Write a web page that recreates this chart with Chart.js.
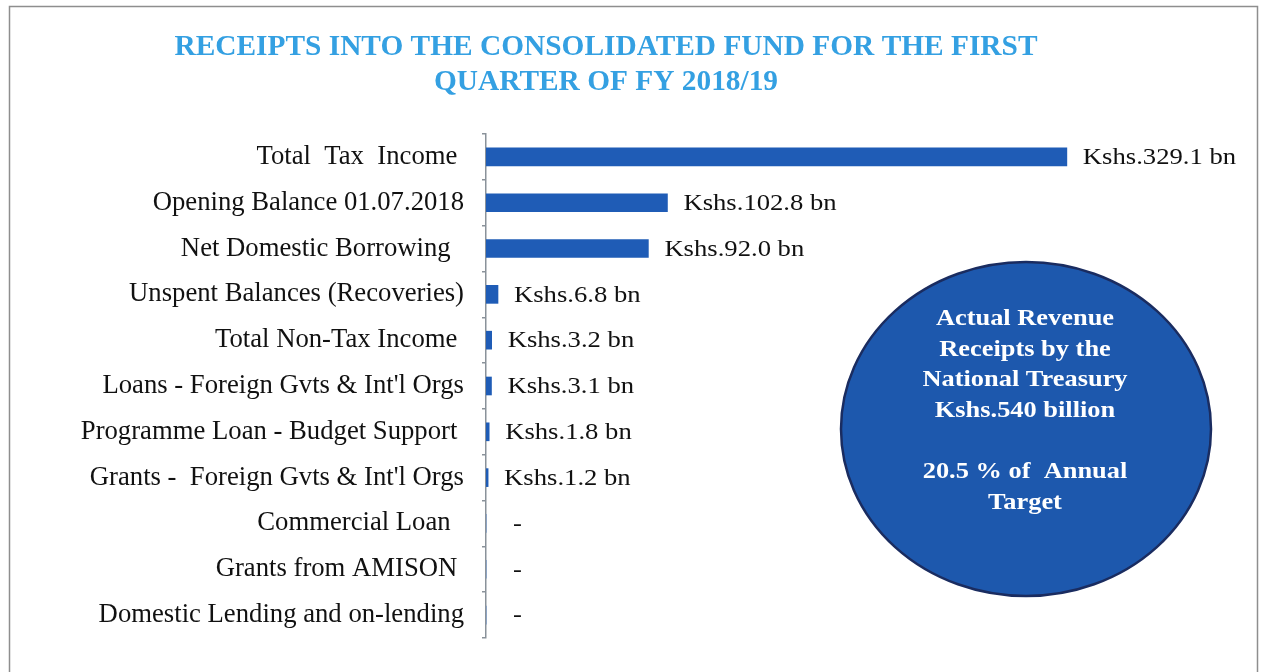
<!DOCTYPE html>
<html><head><meta charset="utf-8">
<script src="https://cdn.jsdelivr.net/npm/chart.js@4/dist/chart.umd.min.js"></script>
<style>html,body{margin:0;padding:0;background:#fff}#wrap{width:1263px;height:672px;position:relative}</style>
</head><body><div id="wrap"><canvas id="c" width="1263" height="672"></canvas></div>
<script>
const categories = [
  "Total  Tax  Income ",
  "Opening Balance 01.07.2018",
  "Net Domestic Borrowing  ",
  "Unspent Balances (Recoveries)",
  "Total Non-Tax Income ",
  "Loans - Foreign Gvts & Int'l Orgs",
  "Programme Loan - Budget Support ",
  "Grants -  Foreign Gvts & Int'l Orgs",
  "Commercial Loan  ",
  "Grants from AMISON ",
  "Domestic Lending and on-lending"
];
const values = [329.1, 102.8, 92.0, 6.8, 3.2, 3.1, 1.8, 1.2, 0, 0, 0];
const valueLabels = ["Kshs.329.1 bn","Kshs.102.8 bn","Kshs.92.0 bn","Kshs.6.8 bn","Kshs.3.2 bn","Kshs.3.1 bn","Kshs.1.8 bn","Kshs.1.2 bn","-","-","-"];
const titleLines = ["RECEIPTS INTO THE CONSOLIDATED FUND FOR THE FIRST","QUARTER OF FY 2018/19"];
const circleLines = ["Actual Revenue","Receipts by the","National Treasury","Kshs.540 billion","","20.5 % of  Annual","Target"];

const SERIF = "'Liberation Serif','Times New Roman',serif";

const decor = {
  id:'decor',
  beforeDraw(chart){
    const ctx = chart.ctx;
    ctx.save();
    ctx.strokeStyle = '#8e8e8e';
    ctx.lineWidth = 1.5;
    ctx.beginPath();
    ctx.moveTo(9.5, 680); ctx.lineTo(9.5, 6.5); ctx.lineTo(1257.5, 6.5); ctx.lineTo(1257.5, 680);
    ctx.stroke();
    // title
    ctx.fillStyle = '#34a0e2';
    ctx.font = "bold 29px " + SERIF;
    ctx.textAlign = 'center'; ctx.textBaseline = 'middle';
    const w0 = ctx.measureText(titleLines[0]).width;
    const sx = 863 / w0;
    ctx.translate(606, 0);
    ctx.scale(sx, 1);
    ctx.fillText(titleLines[0], 0, 48);
    ctx.fillText(titleLines[1], 0, 83);
    ctx.restore();
  },
  afterDraw(chart){
    const ctx = chart.ctx;
    const xs = chart.scales.x, ys = chart.scales.y;
    ctx.save();
    ctx.font = "24px " + SERIF;
    ctx.fillStyle = '#111';
    ctx.textAlign = 'left'; ctx.textBaseline = 'middle';
    values.forEach((v,i)=>{
      const x = xs.getPixelForValue(v) + (v === 0 ? 27 : 16);
      const y = ys.getPixelForValue(i) + 1;
      ctx.save();
      ctx.translate(x, y);
      ctx.scale(1.11, 1);
      ctx.fillText(valueLabels[i], 0, 0);
      ctx.restore();
    });
    // circle
    ctx.beginPath();
    ctx.ellipse(1026, 429, 185, 167, 0, 0, Math.PI*2);
    ctx.fillStyle = '#1d58ad';
    ctx.fill();
    ctx.lineWidth = 2.5;
    ctx.strokeStyle = '#1a2c60';
    ctx.stroke();
    ctx.fillStyle = '#fff';
    ctx.font = "bold 24px " + SERIF;
    ctx.textAlign = 'center';
    ctx.translate(1025, 0);
    ctx.scale(1.1, 1);
    circleLines.forEach((t,i)=>{ if(t) ctx.fillText(t, 0, 319 + i*30.6); });
    ctx.restore();
  }
};

new Chart(document.getElementById('c'), {
  type:'bar',
  data:{ labels: categories, datasets:[{ data: values, backgroundColor:'#1f5cb6', barThickness:18 }] },
  options:{
    indexAxis:'y',
    responsive:false, animation:false,
    layout:{ padding:{ left:0, right:71, top:134, bottom:26 } },
    plugins:{ legend:{display:false}, tooltip:{enabled:false}, title:{display:false} },
    scales:{
      x:{ display:false, min:0, max:400 },
      y:{
        afterFit(s){ s.width = 486; },
        grid:{ drawOnChartArea:false, drawTicks:true, tickLength:4, color:'#8a929a', lineWidth:1.5, offset:true },
        border:{ color:'#8a929a', width:1.5 },
        ticks:{ color:'#111', padding:18, font:{ family:SERIF, size:26.7 }, autoSkip:false }
      }
    }
  },
  plugins:[decor]
});
</script></body></html>
